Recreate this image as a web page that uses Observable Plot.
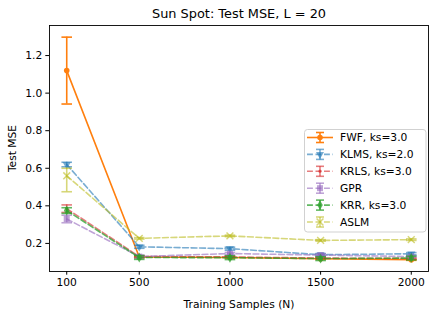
<!DOCTYPE html>
<html><head><meta charset="utf-8">
<script src="https://cdn.jsdelivr.net/npm/d3@7"></script>
<script src="https://cdn.jsdelivr.net/npm/@observablehq/plot@0.6"></script>
<style>body{margin:0;background:#fff} svg{display:block}</style>
</head><body><div id="chart"></div>
<script>
const samples = [100, 500, 1000, 1500, 2000];
const xTicks = [100, 500, 1000, 1500, 2000];
const yTicks = [0.2, 0.4, 0.6, 0.8, 1.0, 1.2];
const names = ["FWF, ks=3.0", "KLMS, ks=2.0", "KRLS, ks=3.0", "GPR", "KRR, ks=3.0", "ASLM"];
const colors = ["#ff7f0e", "#1f77b4", "#d62728", "#9467bd", "#2ca02c", "#bcbd22"];

const fwfMean  = [1.12, 0.128, 0.125, 0.118, 0.113];
const fwfErr   = [0.178, 0.004, 0.003, 0.003, 0.003];
const klmsMean = [0.62, 0.182, 0.172, 0.140, 0.145];
const klmsErr  = [0.012, 0.008, 0.008, 0.006, 0.006];
const krlsMean = [0.385, 0.130, 0.128, 0.122, 0.120];
const krlsErr  = [0.02, 0.005, 0.004, 0.004, 0.004];
const gprMean  = [0.330, 0.130, 0.146, 0.138, 0.130];
const gprErr   = [0.02, 0.008, 0.006, 0.006, 0.005];
const krrMean  = [0.375, 0.125, 0.124, 0.119, 0.122];
const krrErr   = [0.015, 0.010, 0.010, 0.010, 0.010];
const aslmMean = [0.560, 0.227, 0.240, 0.216, 0.220];
const aslmErrDown = [0.085, 0.004, 0.004, 0.004, 0.004];
const aslmErrUp   = [0.040, 0.004, 0.004, 0.004, 0.004];

const seriesMeans = [fwfMean, klmsMean, krlsMean, gprMean, krrMean, aslmMean];
const seriesDown = [fwfErr, klmsErr, krlsErr, gprErr, krrErr, aslmErrDown];
const seriesUp = [fwfErr, klmsErr, krlsErr, gprErr, krrErr, aslmErrUp];

const styles = [
  {dash: null, opacity: 1, symbol: "circle", r: 2.8, rotate: 0, filled: true},
  {dash: "5.9,2.6", opacity: 0.6, symbol: "triangle", r: 3.0, rotate: 180, filled: true},
  {dash: "5.9,2.6", opacity: 0.6, symbol: "circle", r: 1.7, rotate: 0, filled: true},
  {dash: "5.9,2.6", opacity: 0.6, symbol: "square", r: 3.4, rotate: 0, filled: true},
  {dash: "5.9,2.6", opacity: 0.75, symbol: "diamond", r: 3.0, rotate: 0, filled: true},
  {dash: "5.9,2.6", opacity: 0.6, symbol: "times", r: 3.2, rotate: 0, filled: false}
];

const capSymbol = {draw(ctx, size) { const w = Math.sqrt(size / Math.PI); ctx.moveTo(-w, 0); ctx.lineTo(w, 0); }};

const marks = [];
names.forEach((name, i) => {
  const rows = samples.map((s, j) => ({
    x: s, y: seriesMeans[i][j],
    lo: seriesMeans[i][j] - seriesDown[i][j],
    hi: seriesMeans[i][j] + seriesUp[i][j]
  }));
  const st = styles[i], c = colors[i];
  marks.push(Plot.line(rows, {x: "x", y: "y", stroke: c, strokeWidth: 1.6, strokeDasharray: st.dash, strokeOpacity: st.opacity}));
  marks.push(Plot.ruleX(rows, {x: "x", y1: "lo", y2: "hi", stroke: c, strokeWidth: 1.6, strokeOpacity: st.opacity}));
  marks.push(Plot.dot(rows, {x: "x", y: "lo", symbol: capSymbol, r: 5.3, fill: "none", stroke: c, strokeWidth: 1.6, strokeOpacity: st.opacity}));
  marks.push(Plot.dot(rows, {x: "x", y: "hi", symbol: capSymbol, r: 5.3, fill: "none", stroke: c, strokeWidth: 1.6, strokeOpacity: st.opacity}));
  marks.push(Plot.dot(rows, st.filled
    ? {x: "x", y: "y", symbol: st.symbol, r: st.r, rotate: st.rotate, fill: c, fillOpacity: st.opacity, stroke: "none"}
    : {x: "x", y: "y", symbol: st.symbol, r: st.r, fill: "none", stroke: c, strokeWidth: 1.5, strokeOpacity: st.opacity}));
});

const chart = Plot.plot({
  width: 436, height: 314,
  marginLeft: 49, marginRight: 8, marginTop: 25, marginBottom: 43,
  style: {fontFamily: "DejaVu Sans", fontSize: "10.7px", color: "#000", background: "#fff"},
  x: {type: "linear", domain: [5, 2095]},
  y: {type: "linear", domain: [0.0505, 1.36]},
  marks: [
    Plot.axisX({ticks: xTicks, tickSize: 3.7, tickPadding: 3.5, tickFormat: d => String(d), label: "Training Samples (N)", labelAnchor: "center", labelOffset: 36, labelArrow: "none", fontSize: 10.7}),
    Plot.axisY({ticks: yTicks, tickSize: 3.7, tickPadding: 3.5, tickFormat: d => d.toFixed(1), label: "Test MSE", labelAnchor: "center", labelOffset: 41, labelArrow: "none", fontSize: 10.7}),
    ...marks,
    Plot.frame({stroke: "#000", strokeWidth: 0.9}),
    Plot.text(["Sun Spot: Test MSE, L = 20"], {text: d => d, frameAnchor: "top", dy: -8, lineAnchor: "bottom", fontSize: 12.9})
  ]
});
document.getElementById("chart").appendChild(chart);

// Legend
const svg = d3.select(chart);
const lg = svg.append("g").attr("font-family", "DejaVu Sans").attr("font-size", "10.7px").attr("text-anchor", "start");
lg.append("rect").attr("x", 304.5).attr("y", 129.5).attr("width", 121.5).attr("height", 102.5)
  .attr("rx", 3).attr("fill", "#fff").attr("fill-opacity", 0.8).attr("stroke", "#cccccc").attr("stroke-width", 0.9);
const symMap = {circle: d3.symbolCircle, triangle: d3.symbolTriangle, square: d3.symbolSquare, diamond: d3.symbolDiamond, times: d3.symbolTimes};
names.forEach((name, i) => {
  const y = 137.5 + i * 16.9, c = colors[i], st = styles[i];
  const g = lg.append("g");
  g.append("line").attr("x1", 307).attr("x2", 333).attr("y1", y).attr("y2", y)
    .attr("stroke", c).attr("stroke-width", 1.6).attr("stroke-opacity", st.opacity)
    .attr("stroke-dasharray", st.dash);
  g.append("line").attr("x1", 320).attr("x2", 320).attr("y1", y - 5).attr("y2", y + 5)
    .attr("stroke", c).attr("stroke-width", 1.6).attr("stroke-opacity", st.opacity);
  [y - 5, y + 5].forEach(yy => g.append("line").attr("x1", 316).attr("x2", 324).attr("y1", yy).attr("y2", yy)
    .attr("stroke", c).attr("stroke-width", 1.6).attr("stroke-opacity", st.opacity));
  const path = d3.symbol(symMap[st.symbol], Math.PI * st.r * st.r)();
  const p = g.append("path").attr("d", path).attr("transform", `translate(320,${y}) rotate(${st.rotate})`);
  if (st.filled) p.attr("fill", c).attr("fill-opacity", st.opacity);
  else p.attr("fill", "none").attr("stroke", c).attr("stroke-width", 1.5).attr("stroke-opacity", st.opacity);
  g.append("text").attr("x", 340).attr("y", y).attr("dy", "0.35em").attr("fill", "#000").text(name);
});
</script></body></html>
